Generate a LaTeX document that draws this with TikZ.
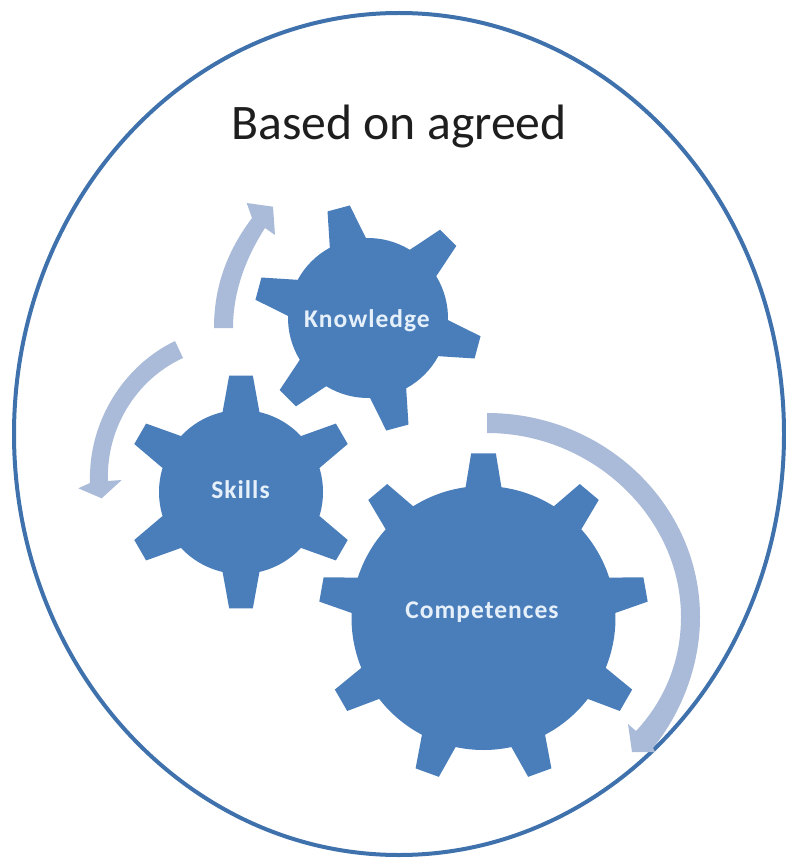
\documentclass[tikz,border=0pt]{standalone}
\usepackage{fontspec}
\setmainfont{Carlito}
\newfontfamily\gearfont[LetterSpace=4]{Carlito}
\definecolor{gearblue}{HTML}{4A7EBB}
\definecolor{ringblue}{HTML}{3F72AC}
\definecolor{arrowblue}{HTML}{AABBD9}
\definecolor{labelwhite}{HTML}{E6F0FA}
\definecolor{titlegray}{HTML}{1E1E1E}
% #1 cx, #2 cy, #3 body r, #4 tip r, #5 teeth, #6 phase, #7 base half-angle, #8 tip half-angle
\newcommand{\gearshape}[8]{%
  \pgfmathsetmacro{\gstep}{360/#5}
  \pgfmathtruncatemacro{\glast}{#5-1}
  \fill[gearfill,shift={(#1,#2)}] (#6-#7:#3pt)
    \foreach \i [evaluate=\i as \ga using #6+\i*\gstep] in {0,...,\glast} {
      -- (\ga-#7:#3pt) -- (\ga-#8:#4pt) -- (\ga+#8:#4pt) -- (\ga+#7:#3pt)
      arc[start angle=\ga+#7, end angle=\ga+\gstep-#7, radius=#3pt]
    } -- cycle;}
\tikzset{
  gearfill/.style={fill=gearblue},
  swoosh/.style={fill=arrowblue},
  gearlabel/.style={text=labelwhite,font=\gearfont\bfseries\fontsize{25.5}{28}\selectfont,inner sep=0pt,anchor=base},
  titlelabel/.style={text=titlegray,font=\fontsize{49.7}{56}\selectfont,inner sep=0pt,anchor=base}
}
\begin{document}
\begin{tikzpicture}[x=1pt,y=-1pt]
\useasboundingbox (0,0) rectangle (785,858);
\fill[white] (0,0) rectangle (785,858);
\draw[ringblue,line width=4pt] (399,434) ellipse[x radius=385pt,y radius=421pt];
% gears
\gearshape{241}{492}{82}{117}{6}{90}{13}{5.8}
\gearshape{368}{318}{80}{114}{6}{45}{13.5}{5.8}
\gearshape{483.5}{618}{132}{165}{9}{90}{7.8}{4.3}
% arrows
\fill[swoosh] (214,328) .. controls (214,285) and (228,250) .. (252,218)
  -- (246.7,203) -- (273,206.7) -- (275,235) -- (265,228)
  .. controls (247,256) and (233,290) .. (233,328) -- cycle;
\fill[swoosh] (175,341) .. controls (125,365) and (88,420) .. (90,483)
  -- (78.3,488.3) -- (101.7,498.3) -- (121.7,480) -- (108,481)
  .. controls (106,430) and (135,380) .. (183,358) -- cycle;
\fill[swoosh] (487,413) .. controls (605,413) and (700,505) .. (700,617)
  .. controls (700,665) and (682,712) .. (653,748)
  -- (655,752) -- (632,752) -- (628,724) -- (636,731)
  .. controls (665,700) and (681,660) .. (681,617)
  .. controls (681,517) and (592,433) .. (487,433) -- cycle;
% labels
\node[titlelabel] (title) at (399,140) {Based on agreed};
\node[gearlabel] (knowledge) at (367,327) {Knowledge};
\node[gearlabel] (skills) at (240.5,498) {Skills};
\node[gearlabel] (competences) at (482,618) {Competences};
\end{tikzpicture}
\end{document}
